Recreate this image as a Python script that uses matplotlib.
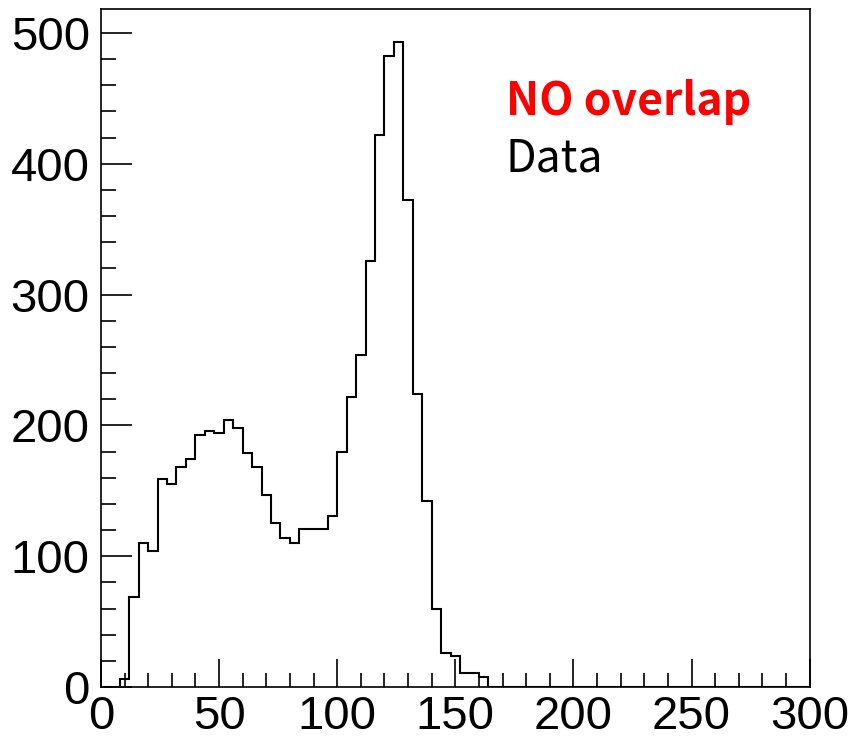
import numpy as np
import matplotlib
matplotlib.use('Agg')
import matplotlib.pyplot as plt
from matplotlib.ticker import MultipleLocator

# histogram: 75 bins of width 4 between 0 and 300
bin_edges = np.arange(0, 301, 4)
counts = [0, 0, 6, 69, 110, 104, 159, 155, 168, 174,
          193, 196, 194, 204, 198, 179, 168, 147, 125, 114,
          110, 121, 121, 121, 131, 180, 222, 254, 326, 422,
          482, 493, 372, 224, 142, 60, 26, 24, 11, 11,
          8] + [0] * 34

label_red = 'NO overlap'
label_black = 'Data'

fig = plt.figure(figsize=(8.55, 7.4), dpi=100)
ax = fig.add_axes([0.118, 0.0716, 0.829, 0.9158])

ax.stairs(counts, bin_edges, color='black', linewidth=1.5)

ax.set_xlim(0, 300)
ax.set_ylim(0, 518)

ax.xaxis.set_major_locator(MultipleLocator(50))
ax.xaxis.set_minor_locator(MultipleLocator(10))
ax.yaxis.set_major_locator(MultipleLocator(100))
ax.yaxis.set_minor_locator(MultipleLocator(20))
ax.tick_params(which='both', direction='in', width=1.2, labelsize=34)
ax.tick_params(axis='y', which='major', length=22, pad=8)
ax.tick_params(axis='y', which='minor', length=11)
ax.tick_params(axis='x', which='major', length=20, pad=6)
ax.tick_params(axis='x', which='minor', length=10)
for lab in ax.get_xticklabels() + ax.get_yticklabels():
    lab.set_fontfamily('Liberation Sans')
for s in ax.spines.values():
    s.set_linewidth(1.2)

ax.text(0.571, 0.844, label_red, transform=ax.transAxes, color='red',
        fontsize=32, fontweight='bold', family=['Noto Sans CJK KR', 'DejaVu Sans'],
        va='baseline')
ax.text(0.571, 0.760, label_black, transform=ax.transAxes, color='black',
        fontsize=32, family=['Noto Sans CJK KR', 'DejaVu Sans'], va='baseline')

fig.savefig('out.png', dpi=100)
